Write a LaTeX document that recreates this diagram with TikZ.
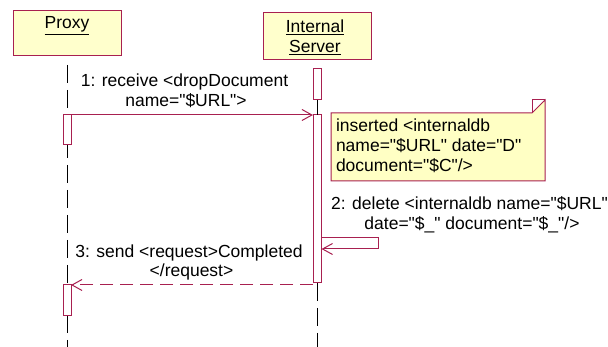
\documentclass[tikz,border=0pt]{standalone}
\usepackage{fontspec}
\setmainfont{Liberation Sans}[Ligatures=TeXOff]
\usetikzlibrary{arrows.meta}
\definecolor{umlred}{RGB}{168,32,80}
\definecolor{objfill}{RGB}{255,255,204}
\definecolor{notefill}{RGB}{255,255,196}
\begin{document}
\begin{tikzpicture}[x=1pt,y=-1pt,
  every node/.style={font=\fontsize{17.5}{21}\selectfont, inner sep=0pt, outer sep=0pt},
  objbox/.style={draw=umlred, fill=objfill, line width=1pt, minimum width=108pt},
  actbox/.style={draw=umlred, fill=white, line width=1pt, minimum width=8pt, anchor=north},
  lifeline/.style={line width=1pt, black, dash pattern=on 18pt off 7pt},
  msg/.style={draw=umlred, line width=1pt, -{Straight Barb[length=10pt,width=11pt,line width=1pt]}},
  retmsg/.style={msg, dash pattern=on 13pt off 7pt},
  txt/.style={anchor=base, text=black}
]
\useasboundingbox (0,0) rectangle (608,347);

% objects
\node[objbox, minimum height=45pt] (proxy) at (67,33.5) {};
\node[txt] (proxyt) at (67,29) {\underline{Proxy}};
\node[objbox, minimum height=47pt] (server) at (317,36.5) {};
\node[txt] (servert1) at (315,33) {\underline{Internal}};
\node[txt] (servert2) at (315,53) {\underline{Server}};

% lifelines
\coordinate (pl0) at (67,65);
\coordinate (pl1) at (67,347);
\coordinate (sl1) at (317,347);
\draw[lifeline] (pl0) -- (pl1);

% activations
\node[actbox, minimum height=31pt] (s1) at (317,69) {};
\node[actbox, minimum height=168pt] (s2) at (317,115) {};
\draw[line width=1pt] (s1.south) -- (s2.north);
\draw[lifeline] (s2.south) -- (sl1);
\node[actbox, minimum height=30pt] (p1) at (67,115) {};
\node[actbox, minimum height=31pt] (p2) at (67,285) {};

% message 1
\draw[msg] (p1.north east) -- (s2.north west);
\node[txt] (m1a) at (184.5,87) {1: receive <dropDocument};
\node[txt] (m1b) at (186,107) {name="\$URL">};

% note
\node[anchor=north west, minimum width=214pt, minimum height=68pt] (note) at (331,113) {};
\draw[umlred, fill=notefill, line width=1pt]
  (note.north west) -- ([xshift=-13pt]note.north east) -- ([yshift=13pt]note.north east)
  -- (note.south east) -- (note.south west) -- cycle;
\draw[umlred, line width=1pt]
  ([xshift=-13pt]note.north east) -- ([xshift=-13pt,yshift=13pt]note.north east) -- ([yshift=13pt]note.north east);
\node[anchor=base west] (n1) at (336,132) {inserted <internaldb};
\node[anchor=base west] (n2) at (336,152) {name="\$URL" date="D"};
\node[anchor=base west] (n3) at (336,172) {document="\$C"/>};

% message 2 (self)
\coordinate (sm0) at (321,238);
\coordinate (sm1) at (378,238);
\coordinate (sm2) at (378,249);
\coordinate (sm3) at (321.5,249);
\draw[msg] (sm0) -- (sm1) -- (sm2) -- (sm3);
\node[txt] (m2a) at (469.5,210) {2: delete <internaldb name="\$URL"};
\node[txt] (m2b) at (472,230) {date="\$\_" document="\$\_"/>};

% message 3 (return)
\draw[retmsg] (s2.south west |- p2.north) -- (p2.north east);
\node[txt] (m3a) at (189,258) {3: send <request>Completed};
\node[txt] (m3b) at (191.5,277) {</request>};
\end{tikzpicture}
\end{document}
